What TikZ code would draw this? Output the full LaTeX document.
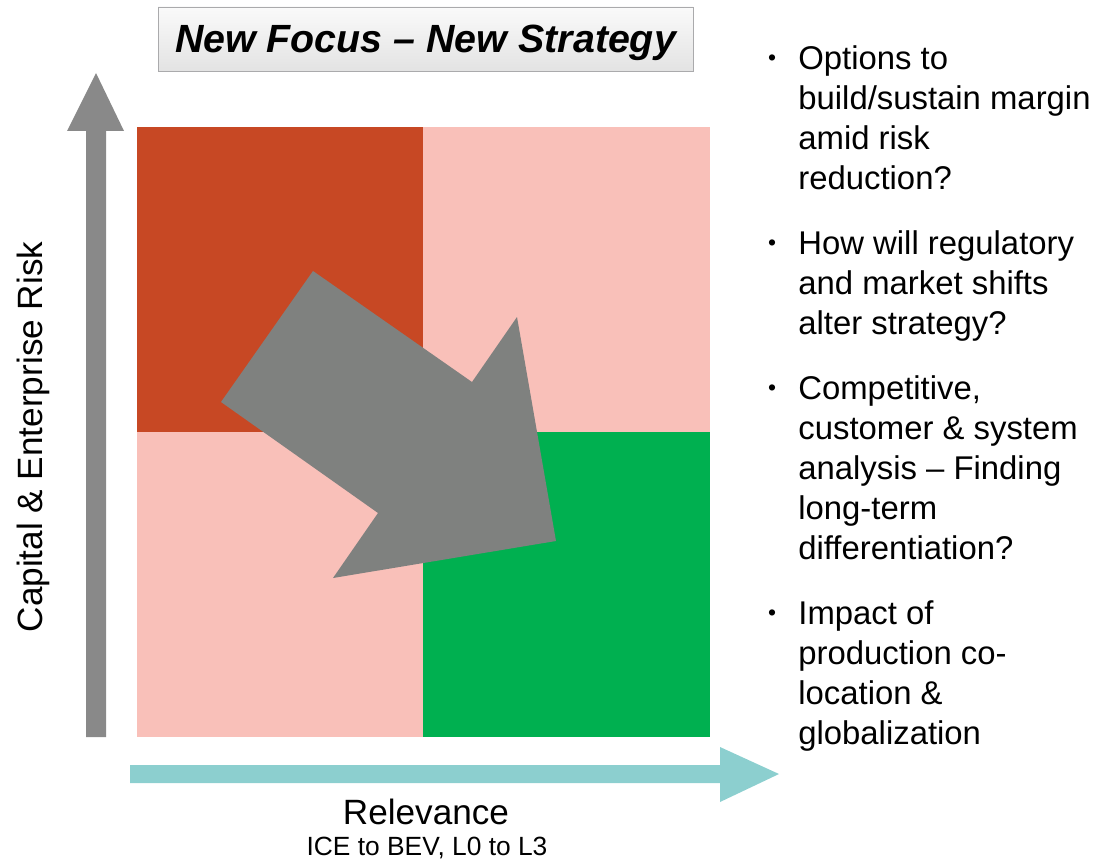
\documentclass[tikz,border=0pt]{standalone}
\usepackage{fontspec}
\setmainfont{Liberation Sans}
\usetikzlibrary{positioning}
\definecolor{riskred}{RGB}{199, 72, 36}
\definecolor{riskpink}{RGB}{249, 192, 185}
\definecolor{riskgreen}{RGB}{0, 176, 80}
\definecolor{shiftgray}{RGB}{127, 129, 127}
\definecolor{axisgray}{RGB}{137, 137, 137}
\definecolor{axisteal}{RGB}{140, 207, 207}
\definecolor{titleborder}{RGB}{170, 170, 172}

\begin{document}
\begin{tikzpicture}[
    title/.style={
        rectangle,
        draw=titleborder,
        top color=white!96!gray,
        bottom color=gray!22!white,
        minimum width=10.7cm,
        minimum height=1.28cm,
        text depth=0pt,
        font=\fontsize{22.4}{26}\selectfont\bfseries\itshape
    },
    axislabel/.style={
        font=\fontsize{20}{24}\selectfont
    },
    sublabel/.style={
        font=\fontsize{15}{18}\selectfont
    },
    question/.style={
        anchor=north west,
        inner sep=0pt,
        align=left,
        font=\fontsize{18.7}{22.8}\selectfont
    },
    dot/.style={
        inner sep=0pt,
        font=\fontsize{13}{15}\selectfont
    }
]

% Page frame
\useasboundingbox (0,0) rectangle (22.18,17.22);

% Title
\node[title] (heading) at (8.51,16.44) {New Focus -- New Strategy};

% Quadrants
\fill[riskred] (2.74,8.58) rectangle (8.46,14.68);
\fill[riskpink] (8.46,8.58) rectangle (14.2,14.68);
\fill[riskpink] (2.74,2.48) rectangle (8.46,8.58);
\fill[riskgreen] (8.46,2.48) rectangle (14.2,8.58);

% Shift arrow
\fill[shiftgray] (6.26,11.80) -- (9.44,9.58) -- (10.34,10.88) -- (11.12,6.40)
    -- (6.66,5.66) -- (7.56,6.96) -- (4.42,9.18) -- cycle;

% Axes
\fill[axisgray] (1.72,2.48) -- (1.72,14.60) -- (1.34,14.60) -- (1.92,15.76)
    -- (2.48,14.60) -- (2.12,14.60) -- (2.12,2.48) -- cycle;
\fill[axisteal] (2.60,1.92) -- (14.40,1.92) -- (14.40,2.28) -- (15.58,1.74)
    -- (14.40,1.18) -- (14.40,1.56) -- (2.60,1.56) -- cycle;

% Axis labels
\node[axislabel, rotate=90] (risk) at (0.66,8.48) {Capital \& Enterprise Risk};
\node[axislabel] (relevance) at (8.52,0.98) {Relevance};
\node[sublabel] (scope) at (8.54,0.26) {ICE to BEV, L0 to L3};

% Questions
\node[question] (q1) at (15.96,16.32) {Options to\\build/sustain margin\\amid risk\\reduction?};
\node[question] (q2) at (15.96,12.62) {How will regulatory\\and market shifts\\alter strategy?};
\node[question] (q3) at (15.96,9.72) {Competitive,\\customer \& system\\analysis -- Finding\\long-term\\differentiation?};
\node[question] (q4) at (15.96,5.22) {Impact of\\production co-\\location \&\\globalization};

\node[dot] at (15.44,16.01) {\textbullet};
\node[dot] at (15.44,12.31) {\textbullet};
\node[dot] at (15.44,9.41) {\textbullet};
\node[dot] at (15.44,4.91) {\textbullet};

\end{tikzpicture}
\end{document}
